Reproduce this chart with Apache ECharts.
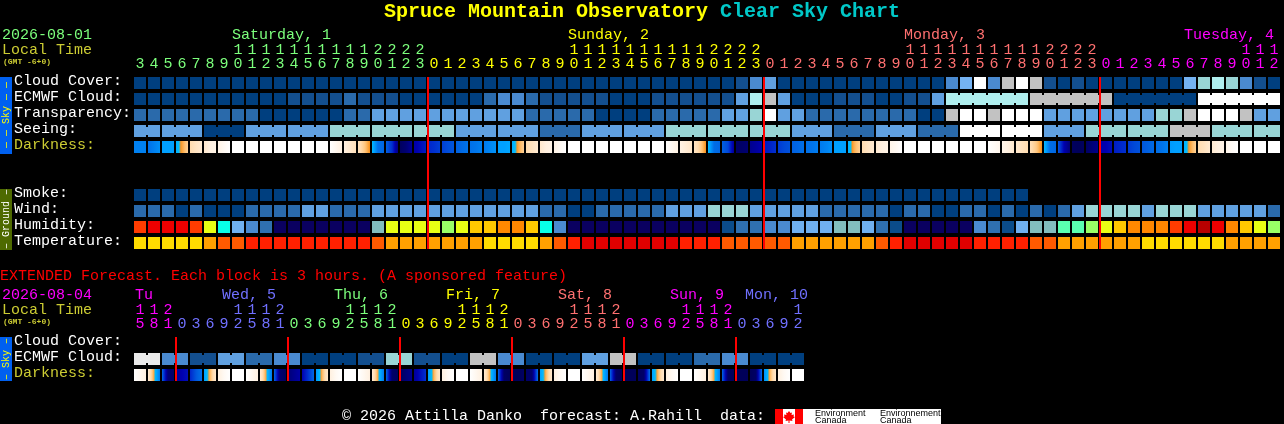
<!DOCTYPE html>
<html><head><meta charset="utf-8">
<style>html,body{margin:0;padding:0;background:#000}#c{width:1284px;height:424px}</style>
<script src="https://cdn.jsdelivr.net/npm/echarts@6/dist/echarts.min.js"></script>
</head><body><div id="c"></div>
<script>
// ---------- hours / days ----------
const mainHours = [3,4,5,6,7,8,9,10,11,12,13,14,15,16,17,18,19,20,21,22,23,
  0,1,2,3,4,5,6,7,8,9,10,11,12,13,14,15,16,17,18,19,20,21,22,23,
  0,1,2,3,4,5,6,7,8,9,10,11,12,13,14,15,16,17,18,19,20,21,22,23,
  0,1,2,3,4,5,6,7,8,9,10,11,12];
const extHours = [15,18,21, 0,3,6,9,12,15,18,21, 0,3,6,9,12,15,18,21, 0,3,6,9,12,15,18,21,
  0,3,6,9,12,15,18,21, 0,3,6,9,12,15,18,21, 0,3,6,9,12];
const mainRows = ['Cloud Cover:','ECMWF Cloud:','Transparency:','Seeing:','Darkness:','','','Smoke:','Wind:','Humidity:','Temperature:'];
const extRows = ['Cloud Cover:','ECMWF Cloud:','Darkness:'];
const mainDayStarts = [0,21,45,69];
const mainDayColors = ['#7cff7c','#ffff00','#ff7070','#ff00ff'];
const mainDayNames = ['Saturday, 1','Sunday, 2','Monday, 3','Tuesday, 4'];
const mainDayLabelCols = [7,31,55,75];
const extDayStarts = [0,3,11,19,27,35,43];
const extDayColors = ['#ff00ff','#7070ff','#7cff7c','#ffff00','#ff7070','#ff00ff','#7070ff'];
const extDayNames = ['Tu','Wed, 5','Thu, 6','Fri, 7','Sat, 8','Sun, 9','Mon, 10'];
const extDayLabelCols = [0,6,14,22,30,38,44];

// ---------- main forecast values (levels index the palettes) ----------
const cloudCover = [0,0,0,0,0,0,0,0,0,0,0,0,0,0,0,0,0,0,0,0,0,
  0,0,0,0,0,0,0,0,0,0,0,0,0,0,0,0,0,0,0,0,0,0,1,3,4,0,0,0,0,0,0,
  0,0,0,0,0,0,3,5,10,3,8,10,8,1,0,1,0,0,0,0,0,0,0,5,6,7,6,3,1,0];
const ecmwfCloud = [0,0,0,0,0,0,0,0,0,0,0,1,1,1,1,2,1,1,1,0,0,
  0,0,0,0,2,3,3,2,1,1,1,1,1,0,0,0,1,1,1,1,1,1,4,7,8,4,0,0,0,1,1,
  1,0,0,1,1,4,7,7,7,7,7,7,8,8,8,8,8,8,0,0,0,0,0,0,10,10,10,10,10,10];
const ecmwfBlocks = [1,1,1,1,1,1,1,1,1,1,1,1,1,1,1,1,1,1,1,1,1,1,1,1,1,1,1,1,1,1,
  1,1,1,1,1,1,1,1,1,1,1,1,1,1,1,1,1,1,1,1,1,1,1,1,1,1,1,1,6,6,6,6];
const transparency = [2,2,2,2,2,2,2,2,2,0,0,0,0,0,0,2,2,4,4,4,4,
  4,4,4,4,4,4,4,2,2,2,2,2,0,0,0,0,2,2,2,2,2,4,4,6,10,4,4,2,2,2,2,
  2,2,2,2,0,0,8,10,10,8,10,10,10,4,4,4,4,4,4,4,4,6,6,8,10,10,10,8,4,4];
const seeing = [4,4,4,4,4,0,0,0,4,4,4,4,4,4,6,6,6,6,6,6,6,
  6,6,4,4,4,4,4,4,2,2,2,4,4,4,4,4,4,6,6,6,6,6,6,6,6,6,4,4,4,2,2,
  2,4,4,4,2,2,2,10,10,10,10,10,10,4,4,4,6,6,6,6,6,6,8,8,8,6,6,6,6,6];
const seeingBlocks = [2,3,3,3,3,3,3,3,3,3,3,3,3,3,3,3,3,3,3,3,3,3,3,3,3,3,3,2];
const smoke = [0,0,0,0,0,0,0,0,0,0,0,0,0,0,0,0,0,0,0,0,0,
  0,0,0,0,0,0,0,0,0,0,0,0,0,0,0,0,0,0,0,0,0,0,0,0,0,0,0,0,0,0,0,
  0,0,0,0,0,0,0,0,0,0,0,0];
const wind = [2,2,2,0,2,0,0,0,2,2,2,2,4,4,2,2,2,4,4,4,4,
  4,4,4,4,4,4,4,4,2,2,0,0,2,2,2,2,2,4,4,4,6,6,6,4,4,4,4,4,2,2,2,
  2,2,0,2,2,0,0,2,2,0,2,0,2,0,2,4,6,6,6,6,4,6,6,6,4,4,4,4,4,2];
const humidity = [12,13,13,13,12,9,6,4,3,2,0,0,0,0,0,0,0,5,9,9,9,
  9,8,9,10,10,11,11,10,6,3,0,0,0,0,0,0,0,0,0,0,0,1,2,2,3,3,4,4,4,5,5,
  4,2,1,0,0,0,0,0,3,2,1,4,5,5,7,7,8,9,10,11,11,11,12,13,14,13,11,10,9,8];
const temperature = [0,0,0,0,0,1,2,2,3,3,3,3,3,3,3,3,3,2,1,1,1,
  1,1,1,1,0,0,0,0,1,2,3,4,4,4,4,4,4,4,3,3,3,2,2,2,2,2,1,1,1,1,1,
  1,2,3,4,4,4,4,4,3,3,3,3,2,2,1,1,1,1,1,1,0,0,0,0,0,0,1,1,1,1];
// darkness: three readings (start, middle, end of the block) per block
const darkness = [[5,5,5],[4.5,5,5.5],[6,6,6],[6.5,7.2,7.8],[8,8.4,8.7],[8.6,9,9.2],[9.2,9.6,10],
  [10,10,10],[10,10,10],[10,10,10],[10,10,10],[10,10,10],[10,10,10],[10,10,10],
  [10,9.5,9],[9,8.6,8.2],[8.2,7.7,7],[6.8,4.5,4.2],[4,3,1],[.3,.7,1.5],[1.8,2.2,2.6],
  [2.8,3,3.3],[3.3,3.6,3.8],[4,4.3,4.6],[4.5,4.7,5],[4.8,5.2,5.6],[6,6,6.2],[6.4,7.2,7.8],
  [8,8.3,8.7],[8.6,9,9.2],[9.2,9.6,10],[10,10,10],[10,10,10],[10,10,10],[10,10,10],[10,10,10],[10,10,10],[10,10,10],
  [9.9,9.5,9.1],[9.1,8.8,8.5],[8.4,7.8,7],[6.8,4.4,4.2],[4,3.5,1.5],[.5,.5,.7],[1.3,1.6,2],[2.5,2.7,3],
  [3.2,3.5,3.7],[4,4.2,4.5],[4.5,4.6,4.9],[4.8,5.1,5.5],[6,6,6],[6.5,7.3,7.8],
  [8,8.4,8.7],[8.7,9,9.2],[9.3,9.6,10],[10,10,10],[10,10,10],[10,10,10],[10,10,10],[10,10,10],[10,10,10],
  [10,9.7,9.4],[9.3,9,8.6],[8.6,8.3,8],[8.1,7.7,7],[6.8,4.4,4.2],[3.8,2,.8],[.3,.2,.3],[.4,.8,1.2],
  [1.8,2,2.3],[2.6,2.8,3],[3.2,3.5,3.7],[3.8,4,4.3],[4.4,4.6,5],[5.8,6,6],[6.5,7.2,7.8],
  [8,8.3,8.7],[8.7,9,9.2],[9.3,9.7,10],[10,10,10],[10,10,10],[10,10,10]];

// ---------- extended forecast values ----------
const extEcmwf = [9,9,3,3,1,1,4,4,2,2,3,3,0,0,0,0,1,1,6,6,1,1,0,0,
  8,8,3,3,0,0,0,0,4,4,8,8,0,0,0,0,2,2,3,3,0,0,0,0];
const extEcmwfBlocks = [2,2,2,2,2,2,2,2,2,2,2,2,2,2,2,2,2,2,2,2,2,2,2,2];
const extDarkness = [[10,9.5,9],[8.7,7.2,4.8],[4.2,.8,.5],[1.5,2,2.3],[2.8,3.8,4.5],[6,7.4,8.6],[9,9.6,10],[10,10,10],
  [10,9.5,9],[8.7,7.2,4.8],[4.2,.7,.3],[.8,1.3,1.8],[2,3,4.2],[5.8,7.4,8.6],[9,9.6,10],[10,10,10],
  [10,9.5,9],[8.7,7.2,4.8],[4.2,.5,.3],[.3,.8,1.3],[1.5,2.3,3],[5.8,7.4,8.6],[9,9.6,10],[10,10,10],
  [10,9.5,9],[8.7,7.2,4.8],[4.2,.4,.2],[.2,.2,.4],[.5,.6,4.5],[6,7.4,8.6],[9,9.6,10],[10,10,10],
  [10,9.5,9],[8.7,7.2,4.8],[4.2,.4,.2],[.2,.2,.2],[.3,.5,4.5],[6,7.4,8.6],[9,9.6,10],[10,10,10],
  [10,9.5,9],[8.7,7.2,4.8],[4.2,.4,.2],[.2,.2,.2],[.2,.4,4.5],[5.5,7.4,8.6],[9,9.6,10],[10,10,10]];

// ---------- colour scales ----------
const skyPalette = ['#003f7f','#134f8f','#2a6aab','#4a8ad0','#60a0e0','#74b2f2','#99d5d5','#afeeee','#c2c2c2','#eaeaea','#ffffff'];
const humidityPalette = ['#0a0060','#0b4c8a','#2f70b0','#4a8ad0','#70b0f0','#82bebe','#08ffe8','#5affb0','#99ff66','#e8ff14','#ffc800','#ff8800','#ff3c00','#ee0000','#b80000'];
const tempPalette = ['#ffdc00','#ffa000','#ff5a00','#ff2000','#e00000'];
const darkStops = [[0,'#000050'],[1,'#000080'],[2,'#0000b0'],[3,'#0030d0'],[4,'#0060e0'],[5,'#0080f0'],[6,'#00a0ff'],[6.9,'#00c0ff'],[7,'#f89018'],[7.5,'#ffc070'],[8,'#ffdcb0'],[9,'#fff0e0'],[10,'#ffffff']];

const FONT = "'Liberation Mono', monospace";
const rgb = h => [1,3,5].map(i => parseInt(h.slice(i,i+2),16));
function darkColor(d){
  for(let i=1;i<darkStops.length;i++){
    if(d<=darkStops[i][0]){
      const [a,ca]=darkStops[i-1],[b,cb]=darkStops[i];
      const t=(d-a)/(b-a),A=rgb(ca),B=rgb(cb);
      return 'rgb('+A.map((v,k)=>Math.round(v+(B[k]-v)*t)).join(',')+')';
    }
  }
  return '#ffffff';
}
function darkGradient(s){
  const stops=[],n=12;
  for(let i=0;i<=n;i++){
    const f=i/n;
    const d=f<.5? s[0]+(s[1]-s[0])*f*2 : s[1]+(s[2]-s[1])*(f-.5)*2;
    stops.push({offset:f,color:darkColor(d)});
  }
  return {type:'linear',x:0,y:0,x2:1,y2:0,colorStops:stops};
}
function joinFlags(blocks){ // true where a block is joined to the next one
  const out=[];
  blocks.forEach(n=>{for(let i=0;i<n;i++)out.push(i<n-1);});
  return out;
}
function cellSeries(name,values,palette,g,row,blocks){
  const flags=blocks?joinFlags(blocks):[];
  return {type:'custom',name,xAxisIndex:g.x,yAxisIndex:g.y,silent:true,animation:false,
    encode:{x:0,y:1},
    data:values.map((v,i)=>[i,row,v]),
    renderItem(p,api){
      const c=api.coord([api.value(0),api.value(1)]),s=api.size([1,1]);
      const w=s[0]-2,h=s[1]-4,x=c[0]-w/2,y=c[1]-h/2,fill=palette[api.value(2)];
      const kids=[{type:'rect',shape:{x,y,width:w,height:h},style:{fill}}];
      if(flags[p.dataIndex]) kids.push({type:'rect',shape:{x:x+w,y:y+2,width:2,height:h-4},style:{fill}});
      return {type:'group',children:kids};
    }};
}
function darkSeries(values,g,row){
  return {type:'custom',name:'Darkness',xAxisIndex:g.x,yAxisIndex:g.y,silent:true,animation:false,
    encode:{x:0,y:1},
    data:values.map((v,i)=>[i,row]),
    renderItem(p,api){
      const c=api.coord([api.value(0),api.value(1)]),s=api.size([1,1]);
      const w=s[0]-2,h=s[1]-4;
      return {type:'rect',shape:{x:c[0]-w/2,y:c[1]-h/2,width:w,height:h},style:{fill:darkGradient(values[p.dataIndex])}};
    }};
}
function lineSeries(cols,g,firstRow,lastRow){ // day-boundary markers
  return {type:'custom',name:'Midnight',xAxisIndex:g.x,yAxisIndex:g.y,silent:true,animation:false,z:5,
    encode:{x:0,y:1},
    data:cols.map(c=>[c,firstRow]),
    renderItem(p,api){
      const a=api.coord([api.value(0),firstRow]),b=api.coord([api.value(0),lastRow]),s=api.size([1,1]);
      const top=a[1]-s[1]/2+2,bot=b[1]+s[1]/2-2;
      return {type:'rect',shape:{x:a[0]-s[0]/2,y:top,width:2,height:bot-top},style:{fill:'#ff0000'}};
    }};
}
function dayLabelSeries(cols,names,colors,g,yOffset,lastCol,nudge){
  return {type:'custom',name:'Days',xAxisIndex:g.x,yAxisIndex:g.y,silent:true,animation:false,clip:false,
    encode:{x:0,y:1},
    data:cols.map(c=>[c,0]),
    renderItem(p,api){
      const col=api.value(0),a=api.coord([col,0]),s=api.size([1,1]),t=names[p.dataIndex];
      const end=api.coord([lastCol,0])[0]+s[0]/2;
      const start=a[0]-s[0]/2+(col===0?2:nudge);
      const x=Math.min(start,end+3-t.length*9);
      return {type:'text',style:{x,y:a[1]+yOffset,text:t,fill:colors[p.dataIndex],font:'15px '+FONT,textAlign:'left',textVerticalAlign:'middle'}};
    }};
}
function colorAt(i,starts,colors){let k=0;starts.forEach((s,j)=>{if(i>=s)k=j;});return colors[k];}
function hourAxis(hours,gridIndex,part,starts,colors,offset){
  return {type:'category',gridIndex,position:'top',offset,
    data:hours.map(h=>part==='ones'?String(h%10):(h>=10?String(Math.floor(h/10)):'')),
    axisLine:{show:false},axisTick:{show:false},splitLine:{show:false},
    axisLabel:{show:true,interval:0,margin:3,hideOverlap:false,fontFamily:FONT,fontSize:15,
      color:(v,i)=>colorAt(i,starts,colors)}};
}
function rowAxis(rows,gridIndex){
  const lab=c=>({color:c,fontFamily:FONT,fontSize:15,padding:[0,0,4,0]});
  return {type:'category',gridIndex,inverse:true,data:rows,
    axisLine:{show:false},axisTick:{show:false},splitLine:{show:false},
    axisLabel:{show:true,interval:0,align:'left',margin:119,hideOverlap:false,
      formatter:v=>v?(v==='Darkness:'?'{d|'+v+'}':'{w|'+v+'}'):'',
      rich:{w:lab('#ffffff'),d:lab('#cccc33')}}};
}
const txt=(text,x,y,fill,font,extra)=>Object.assign({type:'text',x,y,silent:true,
  style:{text,fill,font,textVerticalAlign:'middle',textAlign:'left'}},extra||{});
const vtxt=(text,x,y,fill)=>({type:'text',x,y,rotation:Math.PI/2,silent:true,
  style:{text,fill,font:'10px '+FONT,textAlign:'center',textVerticalAlign:'middle'}});
const box=(x,y,w,h,fill)=>({type:'rect',silent:true,shape:{x,y,width:w,height:h},style:{fill}});

const M={x:0,y:0},E={x:2,y:1};
const row=(name)=>mainRows.indexOf(name);
const option={
  backgroundColor:'#000',animation:false,
  grid:[{left:133,top:75,width:82*14,height:11*16},{left:133,top:335,width:48*14,height:3*16}],
  xAxis:[hourAxis(mainHours,0,'ones',mainDayStarts,mainDayColors,0),
         hourAxis(mainHours,0,'tens',mainDayStarts,mainDayColors,14),
         hourAxis(extHours,1,'ones',extDayStarts,extDayColors,0),
         hourAxis(extHours,1,'tens',extDayStarts,extDayColors,14)],
  yAxis:[rowAxis(mainRows,0),rowAxis(extRows,1)],
  series:[
    cellSeries('Cloud Cover',cloudCover,skyPalette,M,row('Cloud Cover:')),
    cellSeries('ECMWF Cloud',ecmwfCloud,skyPalette,M,row('ECMWF Cloud:'),ecmwfBlocks),
    cellSeries('Transparency',transparency,skyPalette,M,row('Transparency:')),
    cellSeries('Seeing',seeing,skyPalette,M,row('Seeing:'),seeingBlocks),
    darkSeries(darkness,M,row('Darkness:')),
    cellSeries('Smoke',smoke,skyPalette,M,row('Smoke:')),
    cellSeries('Wind',wind,skyPalette,M,row('Wind:')),
    cellSeries('Humidity',humidity,humidityPalette,M,row('Humidity:')),
    cellSeries('Temperature',temperature,tempPalette,M,row('Temperature:')),
    lineSeries([21,45,69],M,0,10),
    dayLabelSeries(mainDayLabelCols,mainDayNames,mainDayColors,M,-48,81,1),
    cellSeries('Ext ECMWF',extEcmwf,skyPalette,E,1,extEcmwfBlocks),
    darkSeries(extDarkness,E,2),
    lineSeries([3,11,19,27,35,43],E,0,2),
    dayLabelSeries(extDayLabelCols,extDayNames,extDayColors,E,-48,47,5)
  ],
  graphic:[
    txt('Spruce Mountain Observatory',384,12,'#ffff00','bold 20px '+FONT),
    txt('Clear Sky Chart',720,12,'#00c8c8','bold 20px '+FONT),
    txt('2026-08-01',2,35,'#7cff7c','15px '+FONT),
    txt('Local Time',2,50,'#cccc33','15px '+FONT),
    txt('(GMT -6+0)',3,62,'#cccc33','bold 8px '+FONT),
    txt('EXTENDED Forecast. Each block is 3 hours. (A sponsored feature)',0,276,'#ff0000','15px '+FONT),
    txt('2026-08-04',2,295,'#ff00ff','15px '+FONT),
    txt('Local Time',2,310,'#cccc33','15px '+FONT),
    txt('(GMT -6+0)',3,322,'#cccc33','bold 8px '+FONT),
    box(0,77,12,77,'#0060f0'),vtxt('\u2014 \u2014 Sky \u2014 \u2014',6,115,'#ffff00'),
    box(0,189,12,61,'#4e6a00'),vtxt('\u2013 Ground \u2013',6,219,'#ffffff'),
    box(0,337,12,44,'#0060f0'),vtxt('\u2013 Sky \u2013',6,359,'#ffff00'),
    txt('\u00a9 2026 Attilla Danko  forecast: A.Rahill  data:',342,416,'#ffffff','15px '+FONT),
    box(775,409,166,15,'#ffffff'),
    box(775,409,8,15,'#ff0000'),box(795,409,8,15,'#ff0000'),
    {type:'polygon',silent:true,shape:{points:[[789,411],[790.5,413],[792,412.5],[791.5,415],[794,414.5],[793.5,416.5],[795,417],[792,419.5],[792.5,421],[789.5,420.5],[789.5,423],[788.5,423],[788.5,420.5],[785.5,421],[786,419.5],[783,417],[784.5,416.5],[784,414.5],[786.5,415],[786,412.5],[787.5,413]]},style:{fill:'#ff0000'}},
    txt('Environment',815,414,'#000','9px "Liberation Sans"'),
    txt('Canada',815,421,'#000','9px "Liberation Sans"'),
    txt('Environnement',880,414,'#000','9px "Liberation Sans"'),
    txt('Canada',880,421,'#000','9px "Liberation Sans"')
  ]
};
const chart=echarts.init(document.getElementById('c'),null,{renderer:'canvas',width:1284,height:424});
chart.setOption(option);
</script></body></html>
